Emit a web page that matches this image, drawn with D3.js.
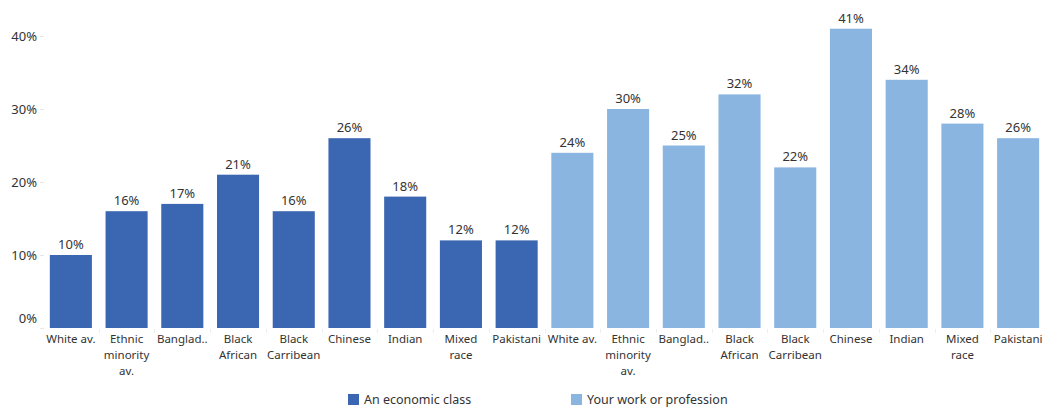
<!DOCTYPE html>
<html>
<head>
<meta charset="utf-8">
<script src="https://cdn.jsdelivr.net/npm/d3@7/dist/d3.min.js"></script>
<style>
  html, body { margin: 0; padding: 0; background: #fff; }
  svg { display: block; font-family: "Noto Sans", "Open Sans", sans-serif; }
</style>
</head>
<body>
<svg id="chart" width="1045" height="410"></svg>
<script>
// Groups shown on the x axis (repeated for each measure)
const groups = ["White av.", "Ethnic minority av.", "Banglad..", "Black African",
  "Black Carribean", "Chinese", "Indian", "Mixed race", "Pakistani"];
// Wrapped label lines for each group
const groupLines = [["White av."], ["Ethnic", "minority", "av."], ["Banglad.."],
  ["Black", "African"], ["Black", "Carribean"], ["Chinese"], ["Indian"],
  ["Mixed", "race"], ["Pakistani"]];
const measures = ["An economic class", "Your work or profession"];
const economicClass = [10, 16, 17, 21, 16, 26, 18, 12, 12];
const workProfession = [24, 30, 25, 32, 22, 41, 34, 28, 26];
const yTicks = [0, 10, 20, 30, 40];
const colors = ["#3b66b1", "#8ab5e1"];

const rows = [];
[economicClass, workProfession].forEach((vals, m) => {
  vals.forEach((v, i) => rows.push({ key: m + "|" + i, m, i, value: v }));
});

const svg = d3.select("#chart");
const plotLeft = 43, plotRight = 1046, plotTop = 36, baseline = 328;

const x = d3.scaleBand()
  .domain(rows.map(d => d.key))
  .range([plotLeft, plotRight])
  .paddingInner(0.245)
  .paddingOuter(0.1225);

const y = d3.scaleLinear().domain([0, 40]).range([baseline, plotTop]);

// Y axis labels and small ticks
const yAxis = svg.append("g");
yAxis.selectAll("text").data(yTicks).join("text")
  .attr("x", 37)
  .attr("y", d => d === 0 ? y(d) - 10 : y(d))
  .attr("dy", "0.35em")
  .attr("text-anchor", "end")
  .attr("font-size", 13)
  .attr("fill", "#333")
  .text(d => d + "%");
yAxis.selectAll("line").data(yTicks).join("line")
  .attr("x1", 40).attr("x2", 44)
  .attr("y1", d => Math.round(y(d)) + 0.5).attr("y2", d => Math.round(y(d)) + 0.5)
  .attr("stroke", "#e6e6e6");

// Bars
svg.append("g").selectAll("rect").data(rows).join("rect")
  .attr("x", d => x(d.key))
  .attr("y", d => y(d.value))
  .attr("width", x.bandwidth())
  .attr("height", d => baseline - y(d.value))
  .attr("fill", d => colors[d.m]);

// Value labels
svg.append("g").selectAll("text").data(rows).join("text")
  .attr("x", d => x(d.key) + x.bandwidth() / 2)
  .attr("y", d => y(d.value) - 6)
  .attr("text-anchor", "middle")
  .attr("font-size", 13)
  .attr("fill", "#333")
  .text(d => d.value + "%");

// Category dividers on the x axis
svg.append("g").selectAll("line").data(rows.slice(1)).join("line")
  .attr("x1", d => Math.round(x(d.key) - x.step() * x.paddingInner() / 2) + 0.5)
  .attr("x2", d => Math.round(x(d.key) - x.step() * x.paddingInner() / 2) + 0.5)
  .attr("y1", baseline + 1).attr("y2", baseline + 5)
  .attr("stroke", "#eeeeee");

// Category labels
const cat = svg.append("g").selectAll("text").data(rows).join("text")
  .attr("x", d => x(d.key) + x.bandwidth() / 2)
  .attr("y", 339)
  .attr("text-anchor", "middle")
  .attr("font-size", 11.5)
  .attr("fill", "#333");
cat.selectAll("tspan").data(d => groupLines[d.i].map(t => ({ t, cx: x(d.key) + x.bandwidth() / 2 })))
  .join("tspan")
  .attr("x", d => d.cx)
  .attr("dy", (d, j) => j === 0 ? "0.35em" : 16)
  .text(d => d.t);

// Legend
const legendX = [348, 571];
const legend = svg.append("g").selectAll("g").data(measures).join("g")
  .attr("transform", (d, i) => `translate(${legendX[i]},394)`);
legend.append("rect").attr("width", 11).attr("height", 11)
  .attr("fill", (d, i) => colors[i]);
legend.append("text").attr("x", 16).attr("y", 6).attr("dy", "0.35em")
  .attr("font-size", 12.5).attr("fill", "#333").text(d => d);
</script>
</body>
</html>
